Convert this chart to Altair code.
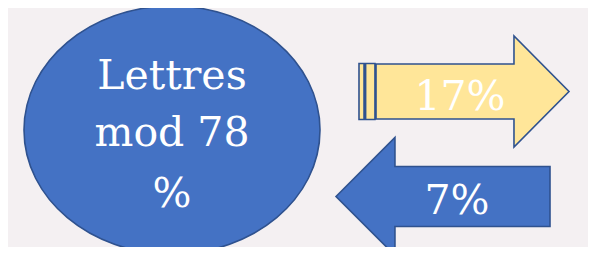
import altair as alt
import pandas as pd

# Values shown in the graphic
labels = ["Lettres mod 78 %", "17%", "7%"]
label_lines = [["Lettres", "mod 78", "%"], ["17%"], ["7%"]]
shares = [78, 17, 7]

# Layout (page pixel coordinates) -- positions kept separate from values
shape_cx = [172, 464, 443]
shape_cy = [130, 91.5, 196.5]
shape_w = [296, 210, 214]
fills = ["#4472C4", "#FFE699", "#4472C4"]
stroke_col = "#2F528F"
text_cx = [172, 460, 457]
text_baselines = [[89, 146, 207], [110], [214]]

BG = "#F4F0F2"

# Custom symbol paths (unit box [-1, 1])
e = 248 / 296
k = 0.5523
ellipse_path = (
    f"M 1 0 C 1 {k*e:.4f} {k} {e:.4f} 0 {e:.4f} "
    f"C {-k} {e:.4f} -1 {k*e:.4f} -1 0 "
    f"C -1 {-k*e:.4f} {-k} {-e:.4f} 0 {-e:.4f} "
    f"C {k} {-e:.4f} 1 {-k*e:.4f} 1 0 Z"
)
right_arrow_path = (
    "M -1 -0.267 L -0.952 -0.267 L -0.952 0.267 L -1 0.267 Z "
    "M -0.937 -0.267 L -0.848 -0.267 L -0.848 0.267 L -0.937 0.267 Z "
    "M -0.838 -0.262 L 0.476 -0.262 L 0.476 -0.529 L 1 0 "
    "L 0.476 0.529 L 0.476 0.262 L -0.838 0.262 Z"
)
left_arrow_path = (
    "M -1 0 L -0.449 -0.551 L -0.449 -0.280 L 1 -0.280 "
    "L 1 0.280 L -0.449 0.280 L -0.449 0.551 Z"
)
paths = [ellipse_path, right_arrow_path, left_arrow_path]

OFF = 8  # page margin
W, H = 596 - 2 * OFF, 255 - 2 * OFF
xs = alt.Scale(domain=[OFF, OFF + W], range=[0, W], zero=False, nice=False)
ys = alt.Scale(domain=[OFF + H, OFF], range=[H, 0], zero=False, nice=False)

layers = []
for i in range(3):
    df = pd.DataFrame({"x": [shape_cx[i]], "y": [shape_cy[i]], "share": [shares[i]],
                       "label": [labels[i]]})
    layers.append(
        alt.Chart(df).mark_point(
            shape=paths[i], size=shape_w[i] ** 2, filled=True, fill=fills[i],
            fillOpacity=1, stroke=stroke_col, strokeWidth=1.6, opacity=1,
        ).encode(
            x=alt.X("x:Q", scale=xs, axis=None),
            y=alt.Y("y:Q", scale=ys, axis=None),
        )
    )

rows = []
for i in range(3):
    for line, b in zip(label_lines[i], text_baselines[i]):
        rows.append({"x": text_cx[i], "y": b, "t": line, "share": shares[i]})
tdf = pd.DataFrame(rows)
text = alt.Chart(tdf).mark_text(
    font="DejaVu Serif", fontSize=41, color="white", align="center",
    baseline="alphabetic",
).encode(
    x=alt.X("x:Q", scale=xs, axis=None),
    y=alt.Y("y:Q", scale=ys, axis=None),
    text="t:N",
)

chart = alt.layer(*layers, text).properties(
    width=W, height=H, padding=0, background=BG,
    autosize=alt.AutoSizeParams(type="none"),
).configure_view(stroke=None, clip=False)

chart.save("out.html", embed_options={"renderer": "svg", "actions": False})
